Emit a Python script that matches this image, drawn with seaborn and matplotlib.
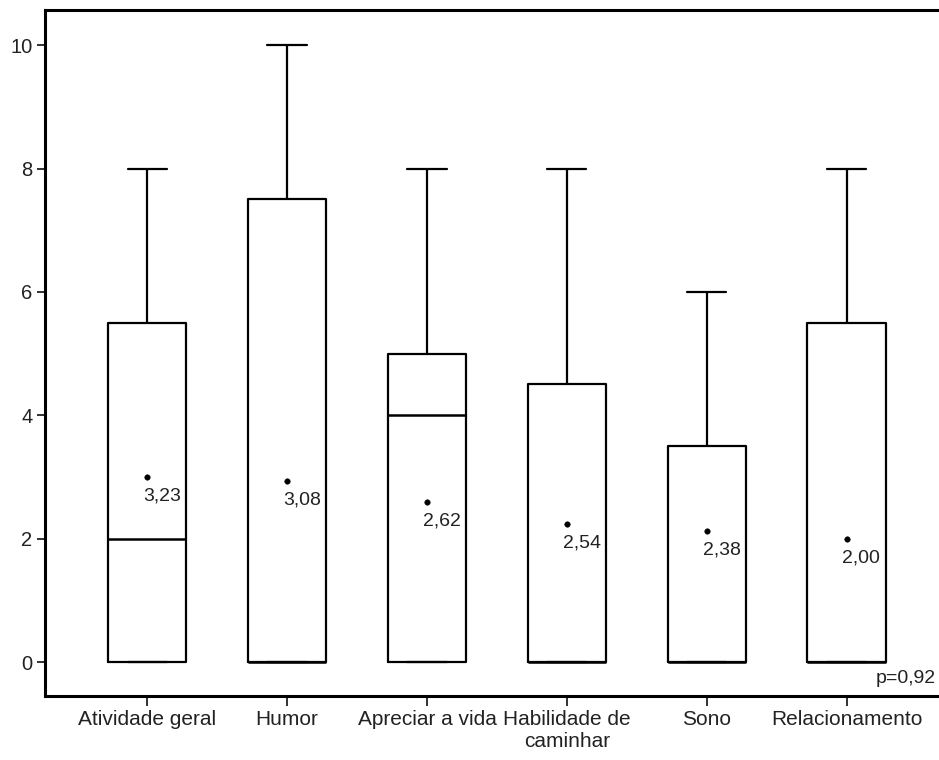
import pandas as pd
import numpy as np
import matplotlib.pyplot as plt
import seaborn as sns

# Categorias e resumo de cinco números (mín, Q1, mediana, Q3, máx)
categorias = ["Atividade geral", "Humor", "Apreciar a vida", "Habilidade de\ncaminhar", "Sono", "Relacionamento"]
minimos = [0, 0, 0, 0, 0, 0]
q1 = [0, 0, 0, 0, 0, 0]
medianas = [2, 0, 4, 0, 0, 0]
q3 = [5.5, 7.5, 5, 4.5, 3.5, 5.5]
maximos = [8, 10, 8, 8, 6, 8]

# Posição dos pontos de média e rótulos impressos
medias_pos = [3.0, 2.93, 2.59, 2.24, 2.12, 1.99]
medias_txt = ["3,23", "3,08", "2,62", "2,54", "2,38", "2,00"]
p_valor = "p=0,92"

# Tabela longa: com 5 valores por grupo, os quartis caem exatamente nos valores lidos
linhas = []
for i, cat in enumerate(categorias):
    for v in (minimos[i], q1[i], medianas[i], q3[i], maximos[i]):
        linhas.append({"dominio": cat, "escore": v})
df = pd.DataFrame(linhas)
df_medias = pd.DataFrame({"dominio": categorias, "media": medias_pos})

sns.set_style("ticks")
plt.rcParams["font.family"] = ["Liberation Sans", "DejaVu Sans"]

fig = plt.figure(figsize=(9.39, 7.6), dpi=100)
ax = fig.add_axes([45 / 939, 64 / 760, 1 - 45 / 939, 686 / 760])

sns.boxplot(data=df, x="dominio", y="escore", order=categorias, ax=ax,
            width=0.56, fill=False, color="black", linecolor="black",
            linewidth=1.6, whis=1.5, showfliers=False,
            medianprops={"linewidth": 1.8})

sns.scatterplot(data=df_medias, x="dominio", y="media", ax=ax,
                color="black", s=16, edgecolor="black", zorder=5, legend=False)

for i, (m, t) in enumerate(zip(medias_pos, medias_txt)):
    ax.annotate(t, (i, m), xytext=(-3, -13.5), textcoords="offset points",
                ha="left", va="center", fontsize=14, color="#222222")

ax.text(0.996, 0.025, p_valor, transform=ax.transAxes, ha="right", va="center",
        fontsize=14, color="#222222")

ax.set_xlim(-0.73, 5.66)
ax.set_ylim(-0.55, 10.57)
ax.set_yticks([0, 2, 4, 6, 8, 10])
ax.set_xlabel("")
ax.set_ylabel("")

ax.tick_params(axis="both", colors="#222222", width=1.3)
ax.tick_params(axis="x", length=7, pad=3, labelsize=15)
ax.tick_params(axis="y", length=6, pad=3, labelsize=14.5)
for lado in ["left", "bottom", "top"]:
    ax.spines[lado].set_linewidth(2.2)
    ax.spines[lado].set_color("black")
ax.spines["right"].set_visible(False)

fig.savefig("out.png", dpi=100)
